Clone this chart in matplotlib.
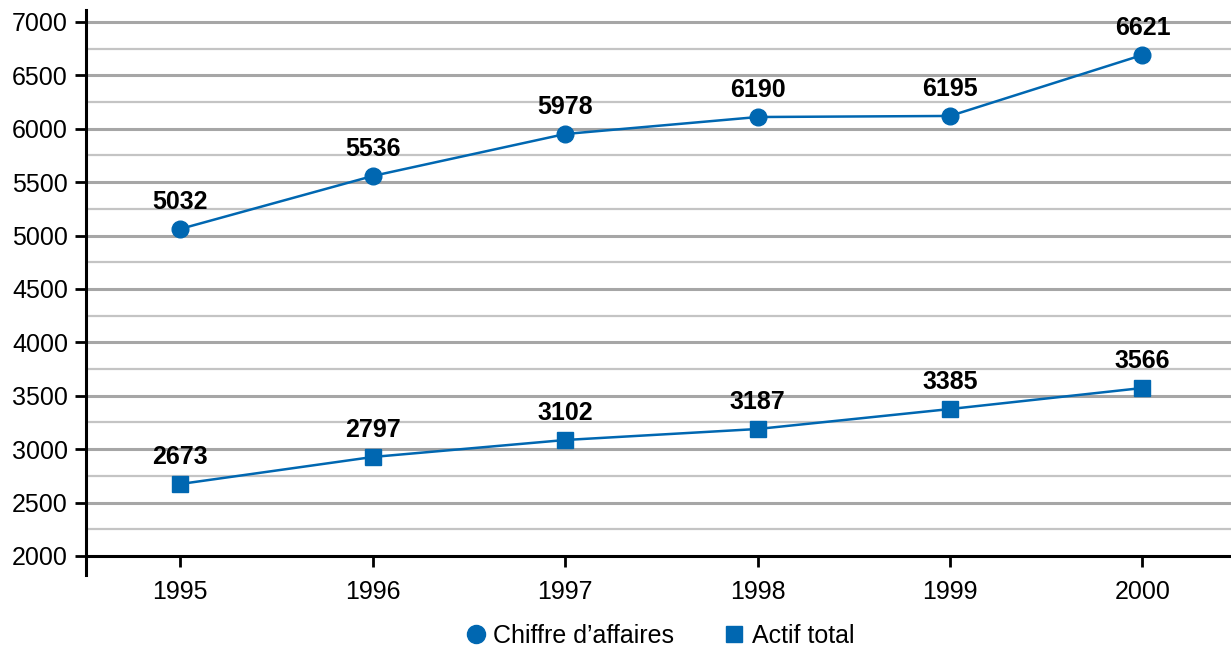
import matplotlib.pyplot as plt
from matplotlib.lines import Line2D
from matplotlib.font_manager import fontManager

years = ['1995', '1996', '1997', '1998', '1999', '2000']
# plotted positions
ca_values = [5062, 5558, 5951, 6110, 6120, 6691]
actif_values = [2674, 2927, 3086, 3189, 3376, 3573]
# labels as printed on the chart
ca_labels = ['5032', '5536', '5978', '6190', '6195', '6621']
actif_labels = ['2673', '2797', '3102', '3187', '3385', '3566']

names = {f.name for f in fontManager.ttflist}
font = 'Liberation Sans Narrow' if 'Liberation Sans Narrow' in names else 'Liberation Sans'
plt.rcParams['font.family'] = [font, 'DejaVu Sans']

blue = '#0067b1'
fig = plt.figure(figsize=(12.31, 6.5), dpi=100)
ax = fig.add_axes([86 / 1231, 1 - 575 / 650, 1 - 86 / 1231, (575 - 10) / 650])
ax.set_ylim(1822, 7112)
ax.set_xlim(-0.49, 5.46)

# grid: darker at 500, lighter in between
for v in range(2250, 7001, 250):
    if v % 500 == 0:
        ax.axhline(v, color='#a6a6a6', lw=2.2, zorder=1)
    else:
        ax.axhline(v, color='#c4c4c4', lw=1.6, zorder=1)

x = range(len(years))
ax.plot(x, ca_values, color=blue, lw=1.8, marker='o', ms=12, zorder=3)
ax.plot(x, actif_values, color=blue, lw=1.8, marker='s', ms=11, zorder=3)

for i in x:
    ax.annotate(ca_labels[i], (i, ca_values[i]), xytext=(0, 27), textcoords='offset pixels',
                ha='center', va='center', fontsize=18, fontweight='bold')
    ax.annotate(actif_labels[i], (i, actif_values[i]), xytext=(0, 27), textcoords='offset pixels',
                ha='center', va='center', fontsize=18, fontweight='bold')

for s in ['top', 'right']:
    ax.spines[s].set_visible(False)
ax.spines['bottom'].set_position(('data', 2000))
ax.spines['left'].set_linewidth(2.2)
ax.spines['bottom'].set_linewidth(2.2)

ax.set_yticks(range(2000, 7001, 500))
ax.set_xticks(list(x))
ax.set_xticklabels(years)
ax.tick_params(axis='y', length=8, width=2, labelsize=18, pad=5)
ax.tick_params(axis='x', length=8, width=2, labelsize=18, pad=9)

handles = [Line2D([], [], ls='none', marker='o', ms=13, color=blue),
           Line2D([], [], ls='none', marker='s', ms=12, color=blue)]
fig.legend(handles, ['Chiffre d\u2019affaires', 'Actif total'], loc='center',
           bbox_to_anchor=(660 / 1231, 1 - 636 / 650), ncol=2, frameon=False,
           fontsize=18, handlelength=0.8, handletextpad=0.3, columnspacing=2.0)

fig.savefig('out.png', dpi=100)
